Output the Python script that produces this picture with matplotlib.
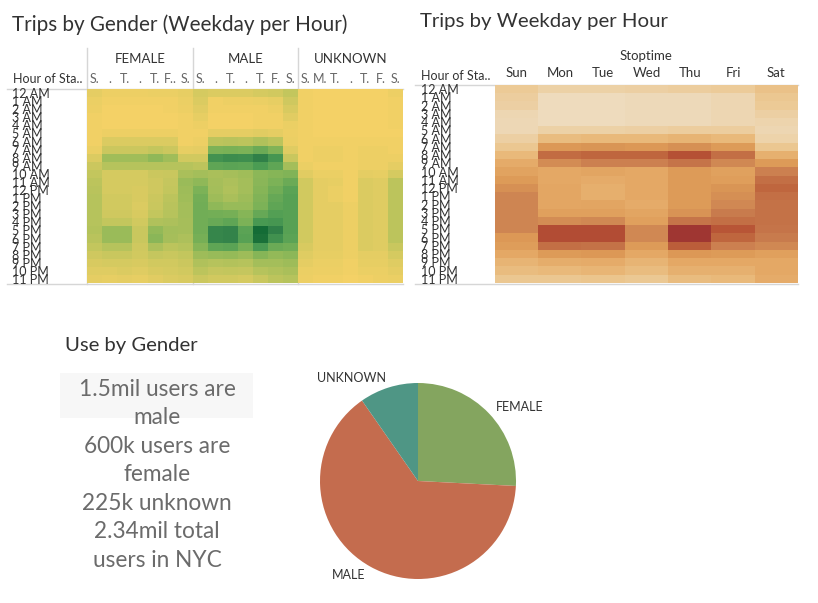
import matplotlib.pyplot as plt
import numpy as np
from matplotlib.colors import LinearSegmentedColormap, Normalize
from matplotlib.patches import Rectangle

plt.rcParams['font.family'] = ['Lato', 'DejaVu Sans']

hours = ['12 AM'] + ['%d AM' % h for h in range(1, 12)] + ['12 PM'] + ['%d PM' % h for h in range(1, 12)]
days = ['Sun', 'Mon', 'Tue', 'Wed', 'Thu', 'Fri', 'Sat']
genders = ['FEMALE', 'MALE', 'UNKNOWN']
# column headers as tableau truncates them in the narrow panels
gender_day_labels = [['S.', '.', 'T.', '.', 'T.', 'F..', 'S.'],
                     ['S.', '.', 'T.', '.', 'T.', 'F.', 'S.'],
                     ['S.', 'M.', 'T.', '.', 'T.', 'F.', 'S.']]

# colour intensity (0 = lightest, 10 = darkest), one list per weekday, 24 hours each
female_trips = [
    [0.5, 0.3, 0.2, 0.1, 0.1, 0.1, 0.1, 0.3, 0.8, 1.3, 1.6, 1.8, 1.9, 2.0, 2.0, 2.0, 2.0, 2.1, 1.9, 1.6, 1.2, 0.9, 0.7, 0.5],
    [0.2, 0.1, 0.0, 0.0, 0.0, 0.2, 0.8, 1.3, 2.7, 2.0, 1.0, 1.0, 1.0, 1.1, 1.1, 1.2, 1.6, 2.9, 2.9, 2.0, 1.4, 1.0, 0.7, 0.4],
    [0.2, 0.1, 0.0, 0.0, 0.0, 0.2, 0.8, 1.3, 2.7, 2.0, 1.0, 1.0, 1.0, 1.1, 1.1, 1.2, 1.6, 2.9, 2.9, 2.0, 1.4, 1.0, 0.8, 0.5],
    [0.2, 0.1, 0.0, 0.0, 0.0, 0.2, 0.8, 1.3, 2.7, 2.0, 1.0, 1.0, 0.9, 0.9, 0.8, 0.9, 1.1, 1.4, 1.4, 1.2, 1.1, 0.9, 0.7, 0.4],
    [0.3, 0.1, 0.0, 0.0, 0.0, 0.2, 0.8, 1.6, 3.3, 2.0, 1.3, 1.2, 1.2, 1.3, 1.4, 1.6, 2.2, 3.2, 3.5, 2.3, 1.5, 1.1, 0.9, 0.6],
    [0.3, 0.1, 0.1, 0.0, 0.0, 0.2, 0.8, 1.3, 2.7, 2.0, 1.4, 1.5, 1.6, 1.8, 1.9, 2.0, 2.3, 2.6, 2.5, 1.8, 1.4, 1.1, 1.0, 0.8],
    [0.4, 0.3, 0.2, 0.1, 0.1, 0.1, 0.1, 0.4, 1.1, 2.0, 2.4, 2.9, 2.8, 2.7, 2.6, 2.6, 2.5, 2.5, 2.3, 2.0, 1.6, 1.3, 1.1, 0.9],
]
male_trips = [
    [1.0, 0.8, 0.6, 0.4, 0.2, 0.1, 0.2, 0.5, 1.1, 1.8, 2.6, 3.3, 4.0, 4.3, 4.4, 4.4, 4.4, 4.4, 4.2, 3.6, 2.8, 2.2, 1.8, 1.3],
    [0.8, 0.1, 0.1, 0.0, 0.0, 0.5, 1.8, 4.0, 6.7, 5.0, 2.4, 2.5, 2.6, 2.8, 3.3, 4.3, 4.7, 7.7, 7.7, 5.0, 3.0, 2.0, 1.5, 1.1],
    [0.8, 0.2, 0.1, 0.0, 0.0, 0.5, 1.9, 4.1, 7.2, 5.2, 2.5, 2.3, 2.2, 2.4, 3.0, 4.2, 5.0, 7.9, 7.9, 5.2, 3.1, 2.1, 1.6, 1.1],
    [0.8, 0.2, 0.1, 0.0, 0.0, 0.5, 1.8, 4.0, 7.0, 5.1, 2.7, 2.6, 2.6, 2.8, 3.0, 3.6, 4.0, 5.2, 5.4, 4.2, 2.8, 2.0, 1.5, 1.0],
    [1.0, 0.3, 0.1, 0.1, 0.1, 0.6, 2.2, 4.6, 8.2, 6.0, 3.4, 3.5, 3.6, 3.8, 4.0, 4.8, 6.2, 10.0, 9.6, 6.2, 3.6, 2.6, 2.0, 1.4],
    [1.1, 0.4, 0.2, 0.1, 0.1, 0.5, 1.8, 3.8, 6.4, 5.0, 3.6, 4.0, 4.4, 4.8, 5.0, 5.6, 6.4, 8.2, 6.8, 4.6, 3.2, 2.6, 2.2, 1.8],
    [1.6, 1.2, 0.9, 0.6, 0.3, 0.2, 0.3, 0.7, 1.4, 2.6, 3.8, 4.6, 5.2, 5.4, 5.4, 5.4, 5.4, 5.4, 5.2, 4.4, 3.4, 2.8, 2.4, 2.0],
]
unknown_trips = [
    [0.1, 0.1, 0.1, 0.1, 0.1, 0.1, 0.1, 0.1, 0.1, 0.3, 0.6, 1.1, 1.1, 1.1, 1.1, 1.1, 1.1, 1.1, 1.1, 0.9, 0.7, 0.5, 0.3, 0.2],
    [0.0, 0.0, 0.0, 0.0, 0.0, 0.0, 0.1, 0.2, 0.2, 0.1, 0.3, 0.5, 0.5, 0.5, 0.5, 0.5, 0.5, 0.5, 0.5, 0.5, 0.4, 0.3, 0.2, 0.1],
    [0.0, 0.0, 0.0, 0.0, 0.0, 0.0, 0.1, 0.2, 0.2, 0.1, 0.3, 0.4, 0.3, 0.3, 0.5, 0.5, 0.5, 0.5, 0.5, 0.5, 0.4, 0.3, 0.2, 0.1],
    [0.0, 0.0, 0.0, 0.0, 0.0, 0.0, 0.1, 0.1, 0.1, 0.1, 0.1, 0.1, 0.1, 0.1, 0.2, 0.2, 0.2, 0.2, 0.2, 0.2, 0.2, 0.1, 0.1, 0.0],
    [0.0, 0.0, 0.0, 0.0, 0.0, 0.0, 0.1, 0.2, 0.2, 0.2, 0.5, 0.8, 0.8, 0.8, 0.8, 0.8, 0.8, 0.8, 0.8, 0.8, 0.5, 0.4, 0.3, 0.1],
    [0.0, 0.0, 0.0, 0.0, 0.0, 0.0, 0.1, 0.2, 0.2, 0.2, 0.4, 0.7, 0.7, 0.7, 0.7, 0.7, 0.7, 0.7, 0.7, 0.7, 0.5, 0.4, 0.3, 0.2],
    [0.2, 0.1, 0.1, 0.1, 0.1, 0.0, 0.1, 0.1, 0.2, 0.5, 1.0, 1.8, 1.8, 1.8, 1.8, 1.8, 1.8, 1.8, 1.8, 1.4, 1.0, 0.7, 0.5, 0.3],
]
weekday_trips = [
    [1.0, 0.8, 0.7, 0.3, 0.2, 0.2, 0.7, 1.2, 2.0, 2.8, 3.3, 3.8, 4.5, 5.2, 5.2, 5.2, 5.2, 5.2, 4.0, 3.7, 3.0, 2.3, 1.8, 1.2],
    [0.6, 0.0, 0.0, 0.0, 0.0, 0.6, 1.8, 4.0, 6.7, 4.8, 3.0, 3.0, 3.1, 3.1, 3.1, 3.5, 4.8, 8.5, 8.5, 6.5, 3.8, 2.7, 2.0, 1.2],
    [0.6, 0.0, 0.0, 0.0, 0.0, 0.6, 2.0, 4.2, 7.0, 5.5, 3.2, 2.8, 2.6, 2.6, 3.2, 3.5, 5.0, 8.5, 8.5, 6.3, 4.0, 2.8, 2.2, 1.3],
    [0.7, 0.1, 0.1, 0.1, 0.1, 0.7, 2.0, 4.0, 7.0, 5.5, 3.0, 3.0, 3.0, 3.0, 2.8, 3.2, 3.5, 5.0, 5.0, 3.8, 3.0, 2.3, 1.8, 1.1],
    [0.8, 0.1, 0.1, 0.1, 0.1, 0.8, 2.3, 4.5, 8.2, 6.2, 3.8, 3.8, 3.8, 3.8, 3.8, 4.3, 6.2, 10.0, 10.0, 7.5, 4.0, 3.0, 2.5, 1.8],
    [0.9, 0.3, 0.3, 0.3, 0.3, 0.8, 2.0, 3.8, 6.5, 5.0, 3.4, 3.6, 4.2, 4.6, 5.0, 5.8, 6.5, 8.0, 7.0, 5.5, 3.8, 3.0, 2.5, 2.0],
    [1.5, 1.2, 1.0, 0.7, 0.4, 0.3, 0.5, 1.2, 2.5, 3.8, 5.5, 6.5, 7.0, 6.5, 6.3, 6.3, 6.3, 6.2, 5.8, 5.0, 3.5, 3.0, 3.0, 2.8],
]

# users by gender
pie_labels = ['FEMALE', 'MALE', 'UNKNOWN']
pie_users = [600000, 1500000, 225000]
summary_lines = ['1.5mil users are', 'male', '600k users are', 'female',
                 '225k unknown', '2.34mil total', 'users in NYC']

goldgreen = LinearSegmentedColormap.from_list('goldgreen', [
    '#f4d166', '#d5ca60', '#b6c35c', '#98bb59', '#7cb257', '#60a656',
    '#4b9c53', '#3f8f4f', '#33834a', '#257740', '#146c36'])
browns = LinearSegmentedColormap.from_list('browns', [
    '#eedbbd', '#ecca96', '#e9b97a', '#e4a865', '#dc9856', '#d18954',
    '#c7784c', '#c0673f', '#b85536', '#ad4433', '#9f3632'])
norm = Normalize(0, 10)

W, H = 818, 603
fig = plt.figure(figsize=(W / 100, H / 100), dpi=100)
fig.patch.set_facecolor('white')

def box(x0, y0, x1, y1):
    return [x0 / W, 1 - y1 / H, (x1 - x0) / W, (y1 - y0) / H]

# page-level axes in pixel units for titles, rules and text
bg = fig.add_axes([0, 0, 1, 1])
bg.set_xlim(0, W)
bg.set_ylim(H, 0)
bg.axis('off')

txt = '#333333'
grid = '#d6d6d6'

# ---- Trips by Gender ----
bg.text(12, 25, 'Trips by Gender (Weekday per Hour)', fontsize=14.9, color=txt, va='center')
panel_x = [87, 193, 298, 403]
top, bottom = 89, 283
for i, (name, data) in enumerate(zip(genders, [female_trips, male_trips, unknown_trips])):
    ax = fig.add_axes(box(panel_x[i], top, panel_x[i + 1], bottom))
    ax.imshow(np.array(data).T, cmap=goldgreen, norm=norm, aspect='auto', interpolation='nearest')
    ax.xaxis.set_ticks_position('top')
    ax.set_xticks(range(7))
    ax.set_xticklabels(gender_day_labels[i], fontsize=9, color='#666666')
    ax.tick_params(axis='x', length=0, pad=3)
    if i == 0:
        ax.set_yticks(range(24))
        ax.set_yticklabels(hours, fontsize=9, color=txt, ha='left')
        ax.tick_params(axis='y', length=0, pad=54)
    else:
        ax.set_yticks([])
    for s in ax.spines.values():
        s.set_visible(False)
    bg.text((panel_x[i] + panel_x[i + 1]) / 2, 59, name, fontsize=9.5, color=txt, ha='center', va='center')
    bg.plot([panel_x[i], panel_x[i]], [48, bottom + 1], color=grid, lw=1)
bg.plot([7, 403], [top, top], color=grid, lw=1)
bg.plot([7, 403], [bottom + 1, bottom + 1], color=grid, lw=1)
bg.text(13, 79, 'Hour of Sta..', fontsize=9, color=txt, va='center')

# ---- Trips by Weekday ----
bg.text(420, 21, 'Trips by Weekday per Hour', fontsize=14.7, color=txt, va='center')
ax = fig.add_axes(box(495, 85, 798, 283))
ax.imshow(np.array(weekday_trips).T, cmap=browns, norm=norm, aspect='auto', interpolation='nearest')
ax.xaxis.set_ticks_position('top')
ax.set_xticks(range(7))
ax.set_xticklabels(days, fontsize=9.5, color=txt)
ax.tick_params(axis='x', length=0, pad=4)
ax.set_yticks(range(24))
ax.set_yticklabels(hours, fontsize=9, color=txt, ha='left')
ax.tick_params(axis='y', length=0, pad=53)
for s in ax.spines.values():
    s.set_visible(False)
bg.text(646, 56, 'Stoptime', fontsize=9.5, color=txt, ha='center', va='center')
bg.text(421, 76, 'Hour of Sta..', fontsize=9, color=txt, va='center')
bg.plot([415, 798], [85, 85], color=grid, lw=1)
bg.plot([415, 798], [284, 284], color=grid, lw=1)

# ---- Use by Gender ----
bg.text(65, 346, 'Use by Gender', fontsize=14.6, color=txt, va='center')
bg.add_patch(Rectangle((60, 373), 193, 45, facecolor='#f7f7f7', edgecolor='none'))
for k, line in enumerate(summary_lines):
    bg.text(157, 389 + k * 28.6, line, fontsize=16.3, color='#6b6b6b', ha='center', va='center')

pax = fig.add_axes(box(320, 383, 516, 579))
pax.pie(pie_users, labels=pie_labels, colors=['#84a55f', '#c46c4e', '#4f9685'],
        startangle=90, counterclock=False, labeldistance=1.1,
        textprops={'fontsize': 9, 'color': txt})
pax.set_xlim(-1, 1)
pax.set_ylim(-1, 1)

fig.savefig('out.png', dpi=100)
